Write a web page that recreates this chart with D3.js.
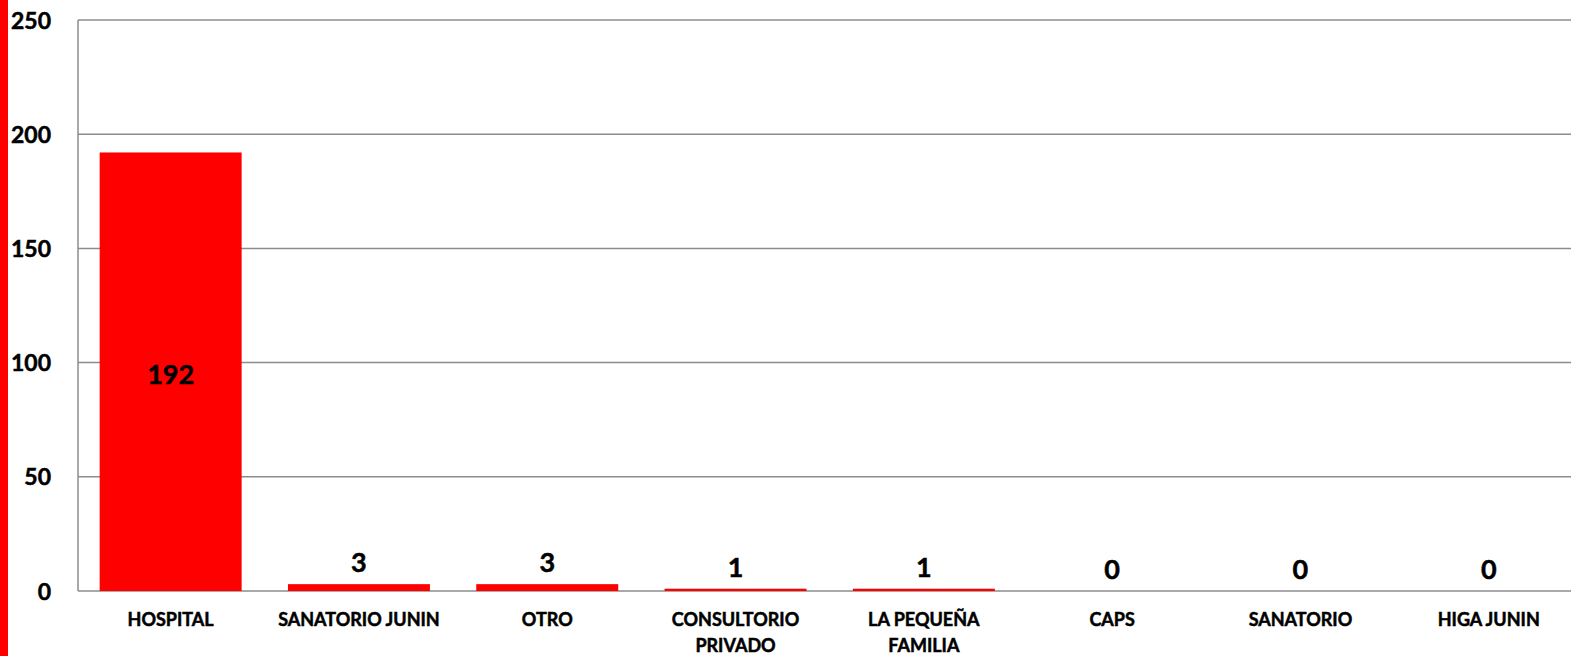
<!DOCTYPE html>
<html><head><meta charset="utf-8">
<script src="https://cdn.jsdelivr.net/npm/d3@7"></script>
<style>
html,body{margin:0;padding:0;background:#fff;}
svg text{font-family:Lato,"Open Sans",sans-serif;font-weight:bold;fill:#000;stroke:#000;stroke-width:0.5px;}
</style></head>
<body>
<svg id="chart" width="1571" height="656"></svg>
<script>
const categories = ["HOSPITAL","SANATORIO JUNIN","OTRO","CONSULTORIO PRIVADO","LA PEQUEÑA FAMILIA","CAPS","SANATORIO","HIGA JUNIN"];
const categoryLines = [["HOSPITAL"],["SANATORIO JUNIN"],["OTRO"],["CONSULTORIO","PRIVADO"],["LA PEQUEÑA","FAMILIA"],["CAPS"],["SANATORIO"],["HIGA JUNIN"]];
const values = [192,3,3,1,1,0,0,0];
const yTicks = [0,50,100,150,200,250];

(function(){
const svg = d3.select("#chart");
const mLeft = 78, mTop = 20, mBottom = 591;
const bandStart = 76.5, bandEnd = 1582.9, visRight = 1571;

svg.append("rect").attr("x",0).attr("y",0).attr("width",8).attr("height",656).attr("fill","#ff0000");

const x = d3.scaleBand().domain(categories).range([bandStart,bandEnd]).paddingInner(0.246).paddingOuter(0.123);
const y = d3.scaleLinear().domain([0,250]).range([mBottom,mTop]);

svg.append("g").selectAll("line").data(yTicks).join("line")
  .attr("x1",mLeft).attr("x2",visRight)
  .attr("y1",d=>y(d)).attr("y2",d=>y(d))
  .attr("stroke","#8c8c8c").attr("stroke-width",1.5);
svg.append("line").attr("x1",mLeft).attr("x2",mLeft).attr("y1",mTop).attr("y2",mBottom)
  .attr("stroke","#8c8c8c").attr("stroke-width",1.5);

const yAxis = d3.axisLeft(y).tickValues(yTicks).tickSize(0).tickPadding(0);
const gy = svg.append("g").attr("transform","translate(51,0)").call(yAxis);
gy.select(".domain").remove();
gy.selectAll("text").attr("font-size",23).attr("font-family","Lato,'Open Sans',sans-serif").attr("font-weight","bold").attr("fill","#000").attr("dy","0.35em");

svg.append("g").selectAll("rect").data(values).join("rect")
  .attr("x",(d,i)=>x(categories[i]))
  .attr("width",x.bandwidth())
  .attr("y",d=>y(d))
  .attr("height",d=>mBottom-y(d))
  .attr("fill","#ff0000");

svg.append("g").selectAll("text").data(values).join("text")
  .attr("x",(d,i)=>x(categories[i])+x.bandwidth()/2)
  .attr("y",d=> d>50 ? (y(d)+mBottom)/2 + 3 : y(d)-12)
  .attr("dy",d=> d>50 ? "0.36em" : "0")
  .attr("text-anchor","middle")
  .attr("font-size",27)
  .text(d=>d);

const gc = svg.append("g");
categoryLines.forEach((lines,i)=>{
  const cx = x(categories[i])+x.bandwidth()/2;
  const t = gc.append("text")
    .attr("x",cx)
    .attr("y",626)
    .attr("text-anchor","middle")
    .attr("font-size",18);
  lines.forEach((l,j)=>{
    t.append("tspan").attr("x",cx).attr("dy",j===0?0:26).text(l);
  });
});
})();
</script>
</body></html>
